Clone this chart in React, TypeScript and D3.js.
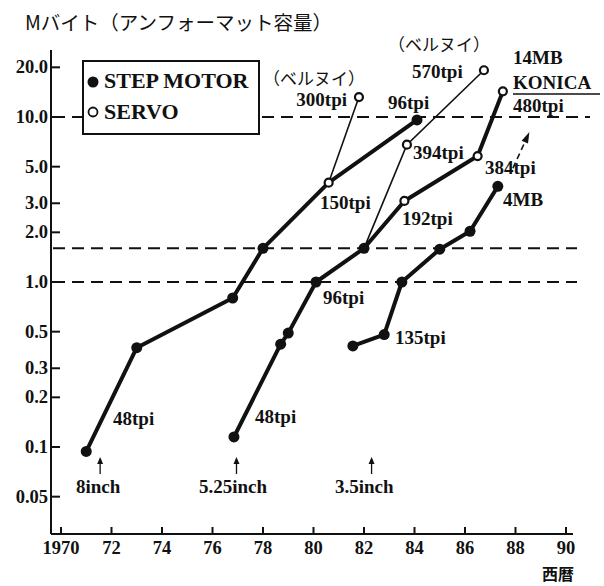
import React from "react";
import * as d3 from "d3";

// 8inch (STEP MOTOR -> 150tpi servo -> 96tpi)
const years8 = [1971.0, 1973.0, 1976.8, 1978.0, 1980.6, 1984.1];
const cap8 = [0.094, 0.4, 0.8, 1.6, 4.0, 9.6];
const open8 = [false, false, false, false, true, false];

// 8inch bernoulli branch
const yearsBern8 = [1980.6, 1981.8];
const capBern8 = [4.0, 13.2];

// 5.25inch
const years525 = [1976.85, 1978.7, 1979.0, 1980.1, 1982.0, 1983.6, 1986.5, 1987.5];
const cap525 = [0.115, 0.42, 0.49, 1.0, 1.6, 3.1, 5.8, 14.3];
const open525 = [false, false, false, false, false, true, true, true];

// 5.25inch bernoulli branch
const yearsBern525 = [1982.0, 1983.7, 1986.75];
const capBern525 = [1.6, 6.8, 19.2];
const openBern525 = [false, true, true];

// 3.5inch
const years35 = [1981.56, 1982.8, 1983.5, 1985.0, 1986.2, 1987.3];
const cap35 = [0.41, 0.48, 1.0, 1.58, 2.03, 3.8];

const xTicks = [1970, 1972, 1974, 1976, 1978, 1980, 1982, 1984, 1986, 1988, 1990];
const xTickLabels = ["1970", "72", "74", "76", "78", "80", "82", "84", "86", "88", "90"];
const yTicks = [20, 10, 5, 3, 2, 1, 0.5, 0.3, 0.2, 0.1, 0.05];
const yTickLabels = ["20.0", "10.0", "5.0", "3.0", "2.0", "1.0", "0.5", "0.3", "0.2", "0.1", "0.05"];
const refLevels = [10, 1.6, 1.0];

const serif = "'Liberation Serif', 'Times New Roman', serif";
const jp = "'Noto Sans CJK JP', sans-serif";

export default function App() {
  const x = d3.scaleLinear().domain([1970, 1990]).range([61, 566]);
  const y = d3.scaleLog().domain([0.1, 10]).range([447, 117]);
  const line = d3
    .line<[number, number]>()
    .x((d) => x(d[0]))
    .y((d) => y(d[1]));
  const zip = (a: number[], b: number[]) => a.map((v, i) => [v, b[i]] as [number, number]);

  const thick = [zip(years8, cap8), zip(years525, cap525), zip(years35, cap35)];
  const thin = [zip(yearsBern8, capBern8), zip(yearsBern525, capBern525)];

  const pts: { yr: number; v: number; open: boolean }[] = [];
  years8.forEach((yr, i) => pts.push({ yr, v: cap8[i], open: open8[i] }));
  pts.push({ yr: yearsBern8[1], v: capBern8[1], open: true });
  years525.forEach((yr, i) => pts.push({ yr, v: cap525[i], open: open525[i] }));
  yearsBern525.forEach((yr, i) => {
    if (openBern525[i]) pts.push({ yr, v: capBern525[i], open: true });
  });
  years35.forEach((yr, i) => pts.push({ yr, v: cap35[i], open: false }));

  const labels: [string, number, number, string?][] = [
    ["300tpi", 347, 106, "end"],
    ["96tpi", 388, 109],
    ["570tpi", 412, 78],
    ["14MB", 513, 64],
    ["KONICA", 513, 89],
    ["480tpi", 513, 112],
    ["394tpi", 413, 159],
    ["150tpi", 320, 209],
    ["384tpi", 485, 174],
    ["4MB", 503, 206],
    ["192tpi", 402, 225],
    ["96tpi", 323, 304],
    ["135tpi", 395, 344],
    ["48tpi", 113, 425],
    ["48tpi", 255, 423],
    ["8inch", 76, 493],
    ["5.25inch", 199, 493],
    ["3.5inch", 335, 493],
  ];
  const upArrows = [1971.55, 1976.95, 1982.3];

  const arrowFrom: [number, number] = [1987.9, 4.9];
  const arrowTo: [number, number] = [1988.55, 8.1];
  const ax1 = x(arrowFrom[0]), ay1 = y(arrowFrom[1]);
  const ax2 = x(arrowTo[0]), ay2 = y(arrowTo[1]);
  const ang = Math.atan2(ay2 - ay1, ax2 - ax1);
  const head = (len: number, w: number) => {
    const bx = ax2 - len * Math.cos(ang), by = ay2 - len * Math.sin(ang);
    const px = -Math.sin(ang) * w, py = Math.cos(ang) * w;
    return `M${ax2},${ay2}L${bx + px},${by + py}L${bx - px},${by - py}Z`;
  };

  return (
    <svg
      width={604}
      height={586}
      style={{ position: "absolute", left: 0, top: 0, background: "#fff" }}
    >
      <text x={25} y={30} fontFamily={jp} fontSize={19.5} fill="#111">
        Mバイト（アンフォーマット容量）
      </text>

      {/* axes */}
      <line x1={51} y1={50} x2={51} y2={534} stroke="#111" strokeWidth={2} />
      <line x1={51} y1={534} x2={573} y2={534} stroke="#111" strokeWidth={2} />
      {yTicks.map((t, i) => (
        <g key={"y" + i}>
          <line x1={51} x2={60} y1={y(t)} y2={y(t)} stroke="#111" strokeWidth={2} />
          <text
            x={48}
            y={y(t) + 6}
            textAnchor="end"
            fontFamily={serif}
            fontWeight="bold"
            fontSize={18.5}
            fill="#111"
          >
            {yTickLabels[i]}
          </text>
        </g>
      ))}
      {xTicks.map((t, i) => (
        <g key={"x" + i}>
          <line x1={x(t)} x2={x(t)} y1={534} y2={527} stroke="#111" strokeWidth={2} />
          <text
            x={x(t)}
            y={554}
            textAnchor="middle"
            fontFamily={serif}
            fontWeight="bold"
            fontSize={18.5}
            fill="#111"
          >
            {xTickLabels[i]}
          </text>
        </g>
      ))}
      <text x={542} y={580} fontFamily={jp} fontWeight="bold" fontSize={16} fill="#111">
        西暦
      </text>

      {/* reference dashed levels */}
      {refLevels.map((v, i) => (
        <line
          key={"r" + i}
          x1={53}
          x2={i === 0 ? 590 : 577}
          y1={y(v)}
          y2={y(v)}
          stroke="#111"
          strokeWidth={2}
          strokeDasharray="12 7"
        />
      ))}

      {/* series lines */}
      {thin.map((d, i) => (
        <path key={"t" + i} d={line(d) || ""} fill="none" stroke="#111" strokeWidth={1.6} />
      ))}
      {thick.map((d, i) => (
        <path
          key={"k" + i}
          d={line(d) || ""}
          fill="none"
          stroke="#111"
          strokeWidth={4}
          strokeLinejoin="round"
        />
      ))}
      {pts.map((p, i) =>
        p.open ? (
          <circle key={"p" + i} cx={x(p.yr)} cy={y(p.v)} r={4} fill="#fff" stroke="#111" strokeWidth={2.2} />
        ) : (
          <circle key={"p" + i} cx={x(p.yr)} cy={y(p.v)} r={5.5} fill="#111" />
        )
      )}

      {/* dashed arrow to KONICA */}
      <line x1={ax1} y1={ay1} x2={ax2 - 6 * Math.cos(ang)} y2={ay2 - 6 * Math.sin(ang)} stroke="#111" strokeWidth={1.6} strokeDasharray="6 4" />
      <path d={head(11, 3.5)} fill="#111" />

      {/* legend */}
      <rect x={83} y={61} width={176} height={73} fill="#fff" stroke="#111" strokeWidth={2} />
      <circle cx={93} cy={82} r={5.5} fill="#111" />
      <text x={104} y={88} fontFamily={serif} fontWeight="bold" fontSize={22} fill="#111">
        STEP MOTOR
      </text>
      <circle cx={93} cy={112} r={4.5} fill="#fff" stroke="#111" strokeWidth={1.8} />
      <text x={104} y={119} fontFamily={serif} fontWeight="bold" fontSize={22} fill="#111">
        SERVO
      </text>

      {/* annotations */}
      <text x={263} y={85} fontFamily={jp} fontSize={17} fill="#111">
        （ベルヌイ）
      </text>
      <text x={388} y={51} fontFamily={jp} fontSize={17} fill="#111">
        （ベルヌイ）
      </text>
      {labels.map(([t, lx, ly, anchor], i) => (
        <text
          key={"l" + i}
          x={lx}
          y={ly}
          textAnchor={anchor || "start"}
          fontFamily={serif}
          fontWeight="bold"
          fontSize={19}
          fill="#111"
        >
          {t}
        </text>
      ))}
      <line x1={513} x2={600} y1={94} y2={94} stroke="#111" strokeWidth={1.5} />
      {upArrows.map((yr, i) => (
        <g key={"a" + i}>
          <line x1={x(yr)} x2={x(yr)} y1={474} y2={459} stroke="#111" strokeWidth={1.3} />
          <path d={`M${x(yr)},${457}L${x(yr) - 3},${464}L${x(yr) + 3},${464}Z`} fill="#111" />
        </g>
      ))}
    </svg>
  );
}
